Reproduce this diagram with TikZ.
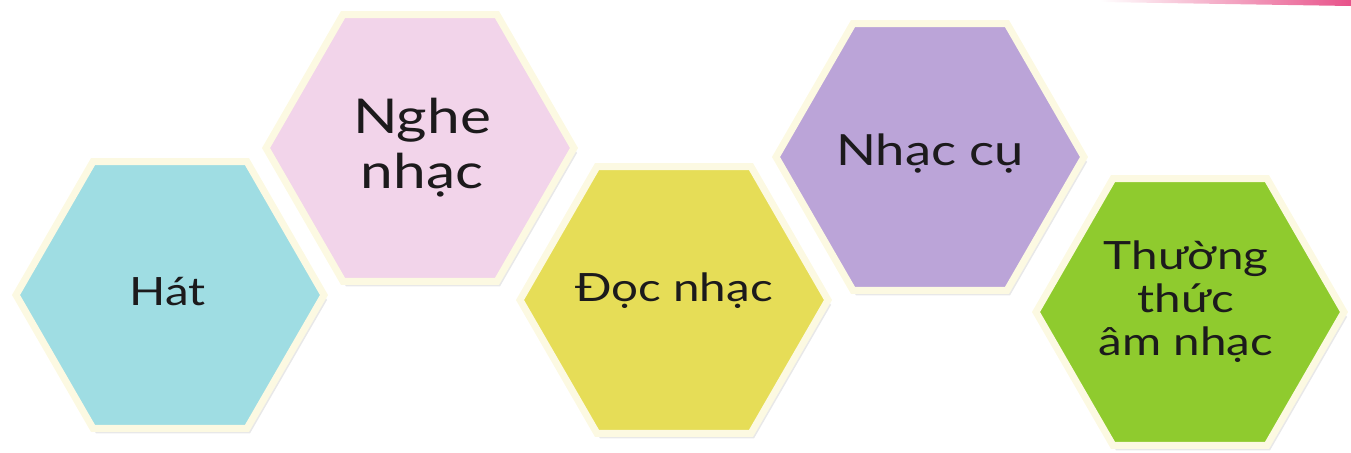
\documentclass[tikz,border=0pt]{standalone}
\usepackage{fontspec}
\setmainfont[FakeStretch=1.22]{Lato}
\usetikzlibrary{shapes.geometric,shadows}

\definecolor{hatblue}{HTML}{9FDDE3}
\definecolor{nghepink}{HTML}{F2D4EA}
\definecolor{docyellow}{HTML}{E6DD57}
\definecolor{cupurple}{HTML}{BBA4D8}
\definecolor{thuonggreen}{HTML}{8FCB2E}
\definecolor{creamline}{HTML}{FCF9E2}
\definecolor{inkdark}{HTML}{1C1A1C}
\definecolor{barpink}{HTML}{E8528A}

\begin{document}
\begin{tikzpicture}[x=0.5pt, y=-0.5pt,
  hexa/.style={regular polygon, regular polygon sides=6, minimum size=154pt,
    inner sep=0pt, draw=creamline, line width=3.5pt,
    drop shadow={opacity=0.18, shadow xshift=1.5pt, shadow yshift=-2.5pt}},
  hexlabel/.style={align=center, text=inkdark, inner sep=0pt}]
  \useasboundingbox (0,0) rectangle (1351,452);
  % pink strip at the top
  \shade[left color=white, right color=barpink] (1100,0) -- (1351,0) -- (1351,6) -- (1100,2) -- cycle;
  % hexagons
  \node[hexa, fill=hatblue] (hat) at (170,295) {};
  \node[hexa, fill=nghepink] (nghe) at (420,148) {};
  \node[hexa, fill=docyellow] (doc) at (674,300) {};
  \node[hexa, fill=cupurple] (cu) at (930,157) {};
  \node[hexa, fill=thuonggreen] (thuong) at (1190,312) {};
  % labels
  \node[hexlabel, font=\fontsize{19.5}{21.5}\selectfont] (hattext) at (168,292) {Hát};
  \node[hexlabel, font=\fontsize{24}{27.5}\selectfont] (nghetext) at (422,148) {Nghe\\nhạc};
  \node[hexlabel, font=\fontsize{19.5}{21.5}\selectfont] (doctext) at (674,291) {Đọc nhạc};
  \node[hexlabel, font=\fontsize{21.5}{24}\selectfont] (cutext) at (930,154) {Nhạc cụ};
  \node[hexlabel, font=\fontsize{19.5}{21.5}\selectfont] (thuongtext) at (1186,302) {Thường\\thức\\âm nhạc};
\end{tikzpicture}
\end{document}
